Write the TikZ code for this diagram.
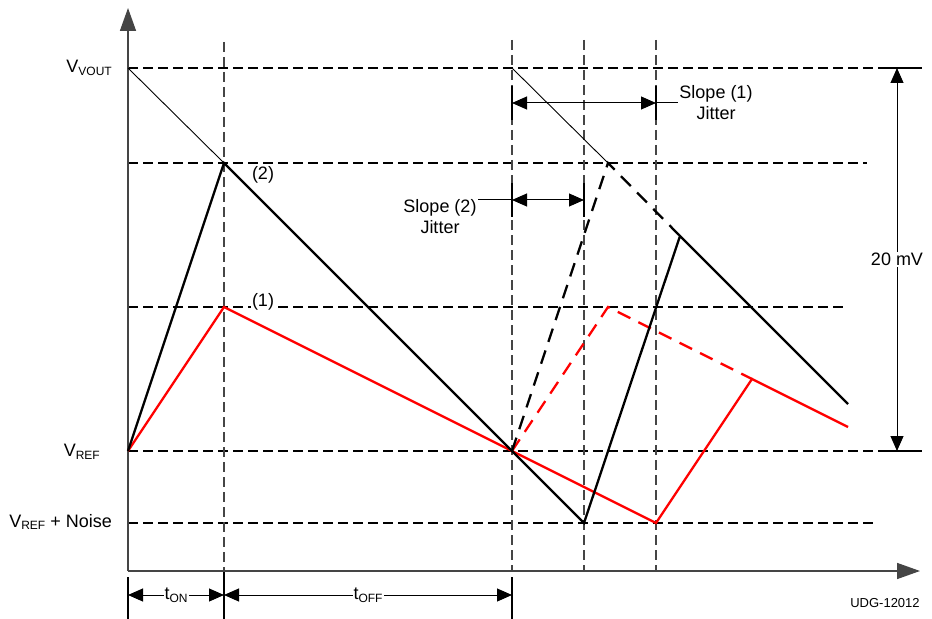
\documentclass[tikz,border=0pt]{standalone}
\usepackage{fontspec}
\setmainfont{Liberation Sans}
\usetikzlibrary{arrows.meta}
\definecolor{gridgray}{HTML}{454545}
\definecolor{wred}{HTML}{FF0000}
\newcommand\lbsub[1]{\raisebox{-2.5bp}{\fontsize{12bp}{12bp}\selectfont #1}}
\begin{document}
\begin{tikzpicture}[x=1bp,y=-1bp,
  font=\fontsize{18bp}{21bp}\selectfont,
  hdash/.style={dash pattern=on 10bp off 5bp, line width=1.1bp},
  vdash/.style={gridgray, dash pattern=on 10bp off 5bp, line width=1.4bp},
  ext/.style={line width=1.3bp},
  wave/.style={line width=2.3bp, line join=miter},
  thinwave/.style={line width=0.9bp},
  wdash/.style={dash pattern=on 14bp off 9bp},
  dim/.style={line width=1bp, {Triangle[length=15bp,width=13bp]}-{Triangle[length=15bp,width=13bp]}},
  axis/.style={line width=1.5bp, gridgray, -{Triangle[length=23bp,width=16bp]}},
  lbl/.style={inner sep=1bp},
  wlbl/.style={fill=white, inner sep=1bp}]
\useasboundingbox (0,0) rectangle (932,619);

% key points
\coordinate (O) at (128,571);
\coordinate (Ytop) at (128,8);
\coordinate (Xend) at (920,571);
\coordinate (VV) at (128,68);
\coordinate (VR) at (128,451);
\coordinate (P2) at (224,163);
\coordinate (P1) at (224,307);
\coordinate (Q) at (512,451);
\coordinate (T) at (512,68);
\coordinate (Q2) at (608,163);
\coordinate (Q1) at (608,307);
\coordinate (B) at (584,523);
\coordinate (R) at (656,523);
\coordinate (Bp) at (680,236);
\coordinate (Be) at (848,404);
\coordinate (Rp) at (752,379);
\coordinate (Re) at (848,427);

% horizontal dashed levels
\draw[hdash] (VV) -- (880,68);
\draw[ext] (880,68) -- (922,68);
\draw[hdash] (128,163) -- (867,163);
\draw[hdash] (128,307) -- (848,307);
\draw[hdash] (VR) -- (880,451);
\draw[ext] (880,451) -- (922,451);
\draw[hdash] (128,523) -- (873,523);

% vertical dashed lines
\draw[vdash] (224,42) -- (224,571);
\draw[vdash] (512,40) -- (512,571);
\draw[vdash] (584,40) -- (584,571);
\draw[vdash] (656,40) -- (656,571);

% extension lines
\draw[ext] (128,577) -- (128,619);
\draw[ext] (224,571) -- (224,619);
\draw[ext] (512,577) -- (512,619);
\draw[ext] (512,86) -- (512,120);
\draw[ext] (656,86) -- (656,120);
\draw[ext] (512,183) -- (512,217);
\draw[ext] (584,183) -- (584,217);

% axes
\draw[axis] (O) -- (Ytop);
\draw[axis] (O) -- (Xend);

% waveforms
\draw[thinwave] (VV) -- (P2);
\draw[thinwave] (T) -- (Q2);
\draw[wave, wred] (VR) -- (P1) -- (Q) -- (R) -- (Rp) -- (Re);
\draw[wave, wred, wdash] (Q) -- (Q1) -- (Rp);
\draw[wave] (VR) -- (P2) -- (Q) -- (B) -- (Bp) -- (Be);
\draw[wave, wdash] (Q) -- (Q2) -- (Bp);

% labels on levels
\node[lbl, anchor=east] (lvv) at (113,68) {V\lbsub{VOUT}};
\node[lbl, anchor=east] (lvr) at (101,452) {V\lbsub{REF}};
\node[lbl, anchor=east] (lvn) at (113,522) {V\lbsub{REF} + Noise};
\node[lbl] (l2) at (263,175) {(2)};
\node[wlbl] (l1) at (263,302) {(1)};

% time dimensions
\coordinate (t0) at (128,595);
\coordinate (t1) at (224,595);
\coordinate (t2) at (512,595);
\draw[dim] (t0) -- node[wlbl] (ton) {t\lbsub{ON}} (t1);
\draw[dim] (t1) -- node[wlbl] (toff) {t\lbsub{OFF}} (t2);

% slope (1) jitter
\coordinate (s1a) at (512,103);
\coordinate (s1b) at (656,103);
\coordinate (s1c) at (678,103);
\draw[dim] (s1a) -- (s1b);
\draw[line width=1bp] (s1b) -- (s1c);
\node[lbl, align=center] (s1) at (716,103) {Slope (1)\\Jitter};

% slope (2) jitter
\coordinate (s2a) at (512,200);
\coordinate (s2b) at (584,200);
\coordinate (s2c) at (478,200);
\draw[dim] (s2a) -- (s2b);
\draw[line width=1bp] (s2c) -- (s2a);
\node[lbl, align=center] (s2) at (440,217) {Slope (2)\\Jitter};

% 20 mV
\coordinate (m1) at (897,68);
\coordinate (m2) at (897,451);
\draw[dim] (m1) -- node[wlbl, pos=0.5] (mv) {20 mV} (m2);

% figure id
\node[lbl, font=\fontsize{13bp}{15bp}\selectfont] (udg) at (885,603) {UDG-12012};
\end{tikzpicture}
\end{document}
